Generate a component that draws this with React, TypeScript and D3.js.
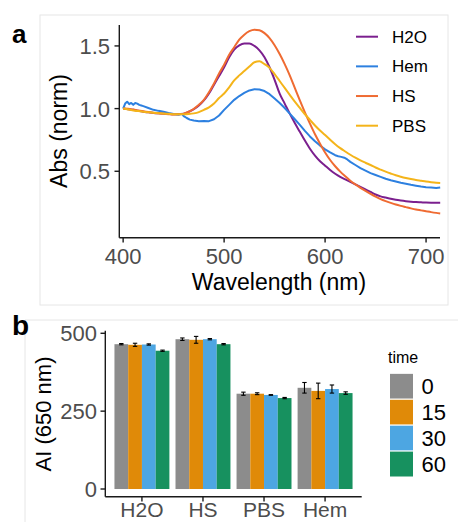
import React, { useEffect, useRef } from "react";
import * as d3 from "d3";

// panel a: normalised absorbance spectra
const wavelengths = [
  400, 405, 410, 415, 420, 425, 430, 435, 440, 445, 450, 455, 460, 465, 470, 475,
  480, 485, 490, 495, 500, 505, 510, 515, 520, 525, 530, 535, 540, 545, 550, 555,
  560, 565, 570, 575, 580, 585, 590, 595, 600, 605, 610, 615, 620, 625, 630, 635,
  640, 645, 650, 655, 660, 665, 670, 675, 680, 685, 690, 695, 700, 705, 710, 714,
];
const h2oAbs = [
  1.0, 0.995, 0.99, 0.982, 0.975, 0.97, 0.965, 0.962, 0.96, 0.957, 0.955, 0.956, 0.96, 0.975, 0.995, 1.025,
  1.065, 1.12, 1.19, 1.26, 1.33, 1.41, 1.47, 1.505, 1.52, 1.52, 1.5, 1.465, 1.41, 1.33, 1.23, 1.12,
  1.04, 0.96, 0.885, 0.815, 0.745, 0.68, 0.625, 0.58, 0.545, 0.51, 0.48, 0.455, 0.435, 0.415, 0.395, 0.375,
  0.355, 0.335, 0.315, 0.3, 0.29, 0.28, 0.272, 0.266, 0.261, 0.257, 0.254, 0.252, 0.25, 0.249, 0.249, 0.249,
];
const hsAbs = [
  1.0, 0.998, 0.992, 0.985, 0.978, 0.972, 0.967, 0.962, 0.958, 0.955, 0.953, 0.954, 0.96, 0.975, 0.998, 1.03,
  1.07, 1.13, 1.2, 1.28, 1.35, 1.43, 1.49, 1.55, 1.59, 1.618, 1.63, 1.625, 1.602, 1.562, 1.505, 1.435,
  1.355, 1.265, 1.165, 1.065, 0.97, 0.88, 0.795, 0.72, 0.65, 0.59, 0.54, 0.497, 0.46, 0.425, 0.395, 0.368,
  0.343, 0.32, 0.298, 0.278, 0.262, 0.248, 0.235, 0.224, 0.214, 0.204, 0.195, 0.188, 0.181, 0.174, 0.168, 0.164,
];
const pbsAbs = [
  1.0, 0.992, 0.985, 0.98, 0.975, 0.97, 0.966, 0.963, 0.96, 0.958, 0.955, 0.955, 0.955, 0.957, 0.962, 0.972,
  0.99, 1.01, 1.04, 1.085, 1.12, 1.17, 1.225, 1.265, 1.3, 1.335, 1.37, 1.377, 1.355, 1.325, 1.275, 1.22,
  1.165, 1.11, 1.055, 1.005, 0.955, 0.91, 0.865, 0.825, 0.79, 0.752, 0.716, 0.685, 0.658, 0.632, 0.608, 0.587,
  0.568, 0.55, 0.53, 0.513, 0.497, 0.482, 0.468, 0.457, 0.447, 0.438, 0.43, 0.424, 0.418, 0.413, 0.409, 0.407,
];
// Hem is noisier, read on its own finer grid
const hemNm = [
  400, 402, 404, 406, 408, 410, 412, 414, 416, 418, 420, 425, 430, 435, 440, 445, 450, 455, 458, 460,
  463, 466, 470, 475, 480, 485, 490, 495, 500, 505, 510, 515, 520, 525, 530, 535, 540, 545, 550, 555,
  560, 565, 570, 575, 580, 585, 590, 595, 600, 605, 610, 613, 616, 619, 622, 625, 630, 635, 640, 645,
  650, 655, 660, 665, 670, 675, 680, 685, 690, 695, 700, 705, 710, 714,
];
const hemAbs = [
  1.0, 1.04, 1.055, 1.035, 1.045, 1.03, 1.045, 1.04, 1.03, 1.025, 1.02, 1.005, 0.99, 0.982, 0.975, 0.965, 0.957, 0.95, 0.958, 0.94,
  0.925, 0.912, 0.905, 0.9, 0.902, 0.9, 0.915, 0.945, 0.99, 1.03, 1.07, 1.1, 1.125, 1.145, 1.155, 1.152, 1.14, 1.115, 1.08, 1.045,
  1.005, 0.96, 0.915, 0.87, 0.822, 0.778, 0.74, 0.705, 0.675, 0.65, 0.628, 0.62, 0.615, 0.608, 0.594, 0.575, 0.55, 0.525, 0.505, 0.485,
  0.47, 0.455, 0.44, 0.428, 0.418, 0.408, 0.4, 0.392, 0.385, 0.378, 0.373, 0.37, 0.366, 0.37,
];
const sampleNames = ["H2O", "Hem", "HS", "PBS"];
const sampleColors = ["#7B1F8E", "#2D80E0", "#EF6B32", "#F4B41A"];
const xTicksA = [400, 500, 600, 700];
const yTicksA = [0.5, 1.0, 1.5];

// panel b: AI at 650 nm over time
const groups = ["H2O", "HS", "PBS", "Hem"];
const times = ["0", "15", "30", "60"];
const timeColors = ["#8C8C8C", "#E08A08", "#4DA6E2", "#17915F"];
const aiMean = [
  [465, 463, 464, 444],
  [481, 479, 481, 465],
  [306, 306, 302, 292],
  [325, 315, 321, 308],
];
const aiErr = [
  [2, 5, 2, 2],
  [4, 11, 2, 2],
  [5, 3, 1, 2],
  [17, 25, 13, 4],
];
const yTicksB = [0, 250, 500];

const FONT = "'Liberation Sans', Arial, sans-serif";

const App = () => {
  const ref = useRef<SVGSVGElement>(null);

  useEffect(() => {
    const svg = d3.select(ref.current);
    svg.selectAll("*").remove();
    svg.style("font-family", FONT);

    // faint panel frames
    const frame = "#E6E6E6";
    svg.append("rect").attr("x", 40).attr("y", 15).attr("width", 408).attr("height", 290)
      .attr("fill", "none").attr("stroke", frame);
    svg.append("path").attr("d", "M25,522V320H458").attr("fill", "none").attr("stroke", frame);

    // ---------- panel a ----------
    const xA = d3.scaleLinear().domain([396.2, 713.8]).range([119.3, 440]);
    const yA = d3.scaleLinear().domain([-0.03, 1.667]).range([237.7, 25]);

    const smooth = d3.line<[number, number]>()
      .x((d) => xA(d[0]))
      .y((d) => yA(d[1]))
      .curve(d3.curveMonotoneX);
    const rough = d3.line<[number, number]>()
      .x((d) => xA(d[0]))
      .y((d) => yA(d[1]));

    const series = [
      wavelengths.map((w, i) => [w, h2oAbs[i]] as [number, number]),
      hemNm.map((w, i) => [w, hemAbs[i]] as [number, number]),
      wavelengths.map((w, i) => [w, hsAbs[i]] as [number, number]),
      wavelengths.map((w, i) => [w, pbsAbs[i]] as [number, number]),
    ];
    series.forEach((s, i) => {
      svg.append("path")
        .datum(s)
        .attr("fill", "none")
        .attr("stroke", sampleColors[i])
        .attr("stroke-width", 2)
        .attr("stroke-linejoin", "round")
        .attr("d", i === 1 ? rough(s) : smooth(s));
    });

    // axes a
    const axA = svg.append("g").attr("stroke", "#1a1a1a").attr("stroke-width", 1.4);
    axA.append("line").attr("x1", 119.3).attr("x2", 119.3).attr("y1", 25).attr("y2", 237.7);
    axA.append("line").attr("x1", 119.3).attr("x2", 440).attr("y1", 237.7).attr("y2", 237.7);
    xTicksA.forEach((t) => {
      axA.append("line").attr("x1", xA(t)).attr("x2", xA(t)).attr("y1", 237.7).attr("y2", 242.5);
      svg.append("text").attr("x", xA(t)).attr("y", 264).attr("text-anchor", "middle")
        .attr("font-size", 22).attr("fill", "#4D4D4D").text(t);
    });
    yTicksA.forEach((t) => {
      axA.append("line").attr("x1", 114.5).attr("x2", 119.3).attr("y1", yA(t)).attr("y2", yA(t));
      svg.append("text").attr("x", 110).attr("y", yA(t)).attr("dy", "0.36em").attr("text-anchor", "end")
        .attr("font-size", 22).attr("fill", "#4D4D4D").text(d3.format(".1f")(t));
    });
    svg.append("text").attr("x", 279).attr("y", 290).attr("text-anchor", "middle")
      .attr("font-size", 23).attr("fill", "#000").text("Wavelength (nm)");
    svg.append("text").attr("transform", "translate(67,131) rotate(-90)").attr("text-anchor", "middle")
      .attr("font-size", 23).attr("fill", "#000").text("Abs (norm)");

    // legend a
    const legA = d3.scaleLinear().domain([0, 3]).range([36.7, 125.7]);
    sampleNames.forEach((n, i) => {
      svg.append("line").attr("x1", 356).attr("x2", 378).attr("y1", legA(i)).attr("y2", legA(i))
        .attr("stroke", sampleColors[i]).attr("stroke-width", 2);
      svg.append("text").attr("x", 392).attr("y", legA(i)).attr("dy", "0.36em")
        .attr("font-size", 17).attr("fill", "#000").text(n);
    });

    svg.append("text").attr("x", 12).attr("y", 43).attr("font-size", 26).attr("font-weight", "bold").text("a");

    // ---------- panel b ----------
    const xB = d3.scaleBand().domain(groups).range([105.3, 361.7]).paddingInner(0).paddingOuter(0.1);
    const dodge = d3.scaleBand().domain(times).range([0, xB.bandwidth() * 0.9]);
    const yB = d3.scaleLinear().domain([-24.7, 508.3]).range([496.7, 330.7]);

    groups.forEach((g, gi) => {
      const x0 = (xB(g) as number) + xB.bandwidth() * 0.05;
      times.forEach((t, ti) => {
        const bx = x0 + (dodge(t) as number);
        const v = aiMean[gi][ti];
        svg.append("rect").attr("x", bx).attr("y", yB(v))
          .attr("width", dodge.bandwidth()).attr("height", yB(0) - yB(v))
          .attr("fill", timeColors[ti]);
      });
    });
    groups.forEach((g, gi) => {
      const x0 = (xB(g) as number) + xB.bandwidth() * 0.05;
      times.forEach((t, ti) => {
        const cx = x0 + (dodge(t) as number) + dodge.bandwidth() / 2;
        const v = aiMean[gi][ti];
        const e = aiErr[gi][ti];
        const eb = svg.append("g").attr("stroke", "#000").attr("stroke-width", 1.1);
        eb.append("line").attr("x1", cx).attr("x2", cx).attr("y1", yB(v - e)).attr("y2", yB(v + e));
        eb.append("line").attr("x1", cx - 2.2).attr("x2", cx + 2.2).attr("y1", yB(v - e)).attr("y2", yB(v - e));
        eb.append("line").attr("x1", cx - 2.2).attr("x2", cx + 2.2).attr("y1", yB(v + e)).attr("y2", yB(v + e));
      });
    });

    const axB = svg.append("g").attr("stroke", "#1a1a1a").attr("stroke-width", 1.4);
    axB.append("line").attr("x1", 105.3).attr("x2", 105.3).attr("y1", 330.7).attr("y2", 496.7);
    axB.append("line").attr("x1", 105.3).attr("x2", 361.7).attr("y1", 496.7).attr("y2", 496.7);
    yTicksB.forEach((t) => {
      axB.append("line").attr("x1", 100.5).attr("x2", 105.3).attr("y1", yB(t)).attr("y2", yB(t));
      svg.append("text").attr("x", 97).attr("y", yB(t)).attr("dy", "0.36em").attr("text-anchor", "end")
        .attr("font-size", 22).attr("fill", "#4D4D4D").text(t);
    });
    groups.forEach((g) => {
      const cx = (xB(g) as number) + xB.bandwidth() / 2;
      axB.append("line").attr("x1", cx).attr("x2", cx).attr("y1", 496.7).attr("y2", 501.5);
      svg.append("text").attr("x", cx).attr("y", 517).attr("text-anchor", "middle")
        .attr("font-size", 21).attr("fill", "#4D4D4D").text(g);
    });
    svg.append("text").attr("transform", "translate(51,414) rotate(-90)").attr("text-anchor", "middle")
      .attr("font-size", 22).attr("fill", "#000").text("AI (650 nm)");

    // legend b
    svg.append("text").attr("x", 388).attr("y", 363).attr("font-size", 16).attr("fill", "#000").text("time");
    const legB = d3.scaleBand().domain(times).range([373.3, 477]);
    times.forEach((t, i) => {
      svg.append("rect").attr("x", 389.5).attr("y", legB(t) as number)
        .attr("width", 24).attr("height", legB.bandwidth())
        .attr("fill", timeColors[i]).attr("stroke", "#fff").attr("stroke-width", 1);
      svg.append("text").attr("x", 421.5).attr("y", (legB(t) as number) + legB.bandwidth() / 2)
        .attr("dy", "0.36em").attr("font-size", 22).attr("fill", "#000").text(t);
    });

    svg.append("text").attr("x", 12).attr("y", 335).attr("font-size", 28).attr("font-weight", "bold").text("b");
  }, []);

  return (
    <svg
      ref={ref}
      width={458}
      height={522}
      style={{ position: "absolute", left: 0, top: 0, background: "#fff" }}
    />
  );
};

export default App;
